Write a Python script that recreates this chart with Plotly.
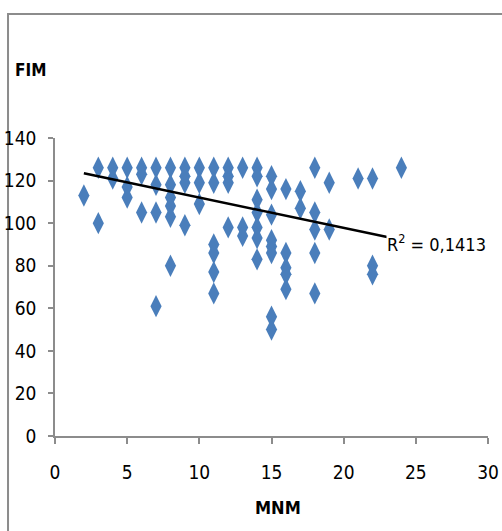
import numpy as np
import plotly.graph_objects as go

mnm = [2, 3, 3, 4, 4, 5, 5, 5, 6, 6, 6, 7, 7, 7, 7,
       8, 8, 8, 8, 8, 8, 9, 9, 9, 9, 10, 10, 10,
       11, 11, 11, 11, 11, 11, 12, 12, 12, 12, 13, 13, 13,
       14, 14, 14, 14, 14, 14, 14,
       15, 15, 15, 15, 15, 15, 15, 15,
       16, 16, 16, 16, 16, 17, 17, 18, 18, 18, 18, 18,
       19, 19, 21, 22, 22, 22, 24]
fim = [113, 126, 100, 126, 121, 126, 117, 112, 126, 123, 105, 126, 118, 105, 61,
       126, 118, 112, 108, 103, 80, 126, 122, 119, 99, 126, 119, 109,
       126, 119, 90, 86, 77, 67, 126, 122, 119, 98, 126, 98, 94,
       126, 122, 111, 105, 98, 93, 83,
       122, 116, 104, 92, 89, 86, 56, 50,
       116, 86, 79, 76, 69, 115, 107, 126, 105, 97, 86, 67,
       119, 97, 121, 121, 80, 76, 126]
# linear trendline as shown in the reference
trend_slope = -1.425
trend_intercept = 126.3
r2_label = "R<sup>2</sup> = 0,1413"
x_ticks = [0, 5, 10, 15, 20, 25, 30]
y_ticks = [0, 20, 40, 60, 80, 100, 120, 140]

tx = np.array([min(mnm), max(mnm)], dtype=float)
ty = trend_slope * tx + trend_intercept

FONT = "DejaVu Sans Condensed, Liberation Sans Narrow, Arial Narrow, sans-serif"

fig = go.Figure()
fig.add_trace(go.Scatter(x=mnm, y=fim, mode="markers",
                         marker=dict(symbol="diamond-tall", size=16, color="#4a7ebb",
                                     line=dict(width=0)),
                         showlegend=False))
fig.add_trace(go.Scatter(x=tx, y=ty, mode="lines",
                         line=dict(color="black", width=2.5), showlegend=False))

fig.add_annotation(x=22.9, y=ty[1] - 1.5, xref="x", yref="y", text=r2_label,
                   showarrow=False, xanchor="left", yanchor="middle",
                   bgcolor="white", borderpad=0,
                   font=dict(family=FONT, size=18, color="black"))
fig.add_annotation(x=-0.097, y=1.228, xref="paper", yref="paper", text="<b>FIM</b>",
                   showarrow=False, xanchor="left", yanchor="middle",
                   font=dict(family=FONT, size=17, color="black"))
fig.add_annotation(x=0.515, y=-0.24, xref="paper", yref="paper", text="<b>MNM</b>",
                   showarrow=False, xanchor="center", yanchor="middle",
                   font=dict(family=FONT, size=18, color="black"))

fig.add_shape(type="rect", xref="paper", yref="paper",
              x0=-0.1085, y0=-0.4, x1=1.1, y1=1.416,
              line=dict(color="#8c8c8c", width=2), fillcolor="rgba(0,0,0,0)", layer="below")

fig.update_xaxes(range=[0, 30], tickvals=x_ticks, showgrid=False, zeroline=False,
                 showline=True, linecolor="#8c8c8c", linewidth=1.5,
                 ticks="outside", ticklen=6, tickcolor="#8c8c8c", tickwidth=1.5,
                 ticklabelstandoff=12, automargin=False,
                 tickfont=dict(family=FONT, size=19, color="black"))
fig.update_yaxes(range=[0, 140], tickvals=y_ticks, showgrid=False, zeroline=False,
                 showline=True, linecolor="#8c8c8c", linewidth=1.5,
                 ticks="outside", ticklen=5, tickcolor="#8c8c8c", tickwidth=1.5,
                 ticklabelstandoff=8, automargin=False,
                 tickfont=dict(family=FONT, size=19, color="black"))
fig.update_layout(width=502, height=531, margin=dict(l=55, r=14, t=138, b=95),
                  plot_bgcolor="white", paper_bgcolor="white")
fig.write_html("out.html")
